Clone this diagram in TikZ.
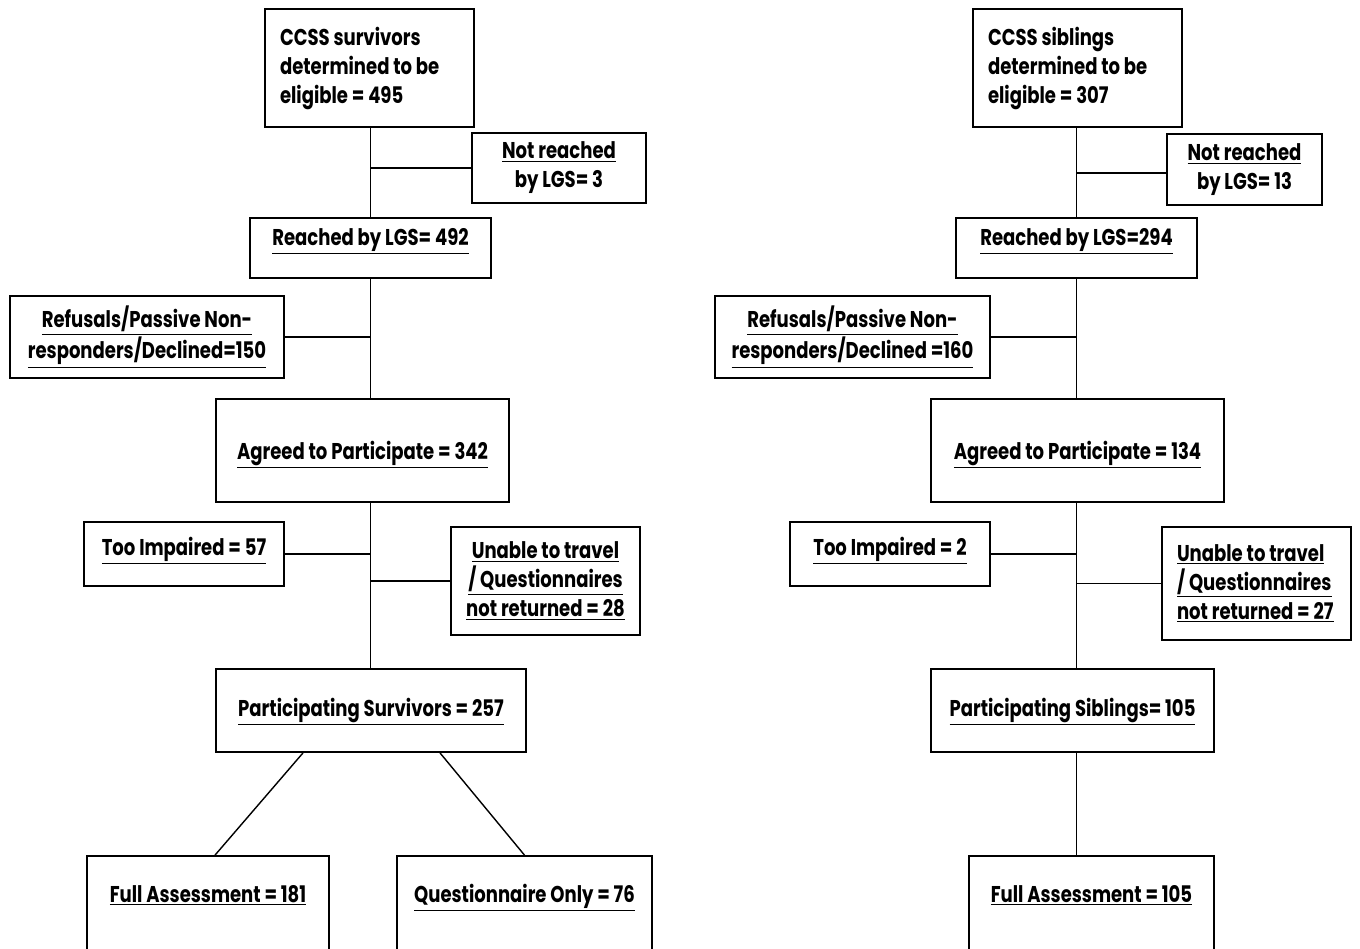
\documentclass[tikz,border=0pt]{standalone}
\usepackage{fontspec}
\setmainfont{Poppins}[FakeStretch=0.79]
\newcommand{\uln}[1]{\underline{#1}}
\begin{document}
\begin{tikzpicture}[x=0.02cm, y=-0.02cm, line width=0.8pt,
  cell/.style={draw, line width=1pt, inner sep=0pt,
    font=\bfseries\fontsize{13pt}{16.5pt}\selectfont},
  mcell/.style={cell, align=center}]
  \useasboundingbox (0,0) rectangle (1360,948);

  % Survivors
  \node[mcell, align=flush left, text width=3.58cm, inner xsep=0.3cm, minimum height=2.36cm] (topL) at (369.5,68) {CCSS survivors\\determined to be\\eligible = 495};
  \node[mcell, minimum width=3.48cm, minimum height=1.4cm] (nrL) at (559,168) {\uln{Not reached}\\by LGS= 3};
  \node[cell, minimum width=4.82cm, text height=0.54cm, text depth=0.66cm] (reL) at (370.5,248) {\uln{Reached by LGS= 492}};
  \node[mcell, minimum width=5.48cm, minimum height=1.64cm] (refL) at (147,337) {\uln{Refusals/Passive Non-}\\\uln{responders/Declined=150}};
  \node[cell, minimum width=5.86cm, text height=1.2cm, text depth=0.86cm] (agL) at (362.5,450.5) {\uln{Agreed to Participate = 342}};
  \node[cell, minimum width=4cm, text height=0.66cm, text depth=0.62cm] (tiL) at (184,554) {\uln{Too Impaired = 57}};
  \node[mcell, minimum width=3.78cm, minimum height=2.16cm] (unL) at (545.5,581) {\uln{Unable to travel}\\\uln{/ Questionnaires}\\\uln{not returned = 28}};
  \node[cell, minimum width=6.2cm, text height=0.94cm, text depth=0.72cm] (paL) at (371,710.5) {\uln{Participating Survivors = 257}};
  \node[cell, minimum width=4.84cm, text height=0.92cm, text depth=1.08cm] (faL) at (208,906) {\uln{Full Assessment = 181}};
  \node[cell, minimum width=5.1cm, text height=0.92cm, text depth=1.08cm] (qoL) at (524.5,906) {\uln{Questionnaire Only = 76}};

  \draw (reL.north) -- (reL.north |- topL.south);
  \draw (reL.south) -- (reL.south |- agL.north);
  \draw (reL.south |- agL.south) -- (reL.south |- paL.north);
  \draw (nrL.west) -- (nrL.west -| reL.north);
  \draw (refL.east) -- (refL.east -| reL.south);
  \draw (tiL.east) -- (tiL.east -| reL.south);
  \draw (unL.west) -- (unL.west -| reL.south);
  \draw ([xshift=-1.36cm]paL.south) -- ([xshift=0.14cm]faL.north);
  \draw ([xshift=1.38cm]paL.south) -- (qoL.north);

  % Siblings
  \node[mcell, align=flush left, text width=3.58cm, inner xsep=0.3cm, minimum height=2.36cm] (topR) at (1077.5,68) {CCSS siblings\\determined to be\\eligible = 307};
  \node[mcell, minimum width=3.1cm, minimum height=1.42cm] (nrR) at (1244.5,169.5) {\uln{Not reached}\\by LGS= 13};
  \node[cell, minimum width=4.82cm, text height=0.54cm, text depth=0.66cm] (reR) at (1076.5,248) {\uln{Reached by LGS=294}};
  \node[mcell, minimum width=5.5cm, minimum height=1.64cm] (refR) at (852.5,337) {\uln{Refusals/Passive Non-}\\\uln{responders/Declined =160}};
  \node[cell, minimum width=5.86cm, text height=1.2cm, text depth=0.86cm] (agR) at (1077.5,450.5) {\uln{Agreed to Participate = 134}};
  \node[cell, minimum width=4cm, text height=0.66cm, text depth=0.62cm] (tiR) at (890,554) {\uln{Too Impaired = 2}};
  \node[mcell, align=flush left, text width=3.18cm, inner xsep=0.3cm, minimum height=2.26cm] (unR) at (1256.5,583.5) {\uln{Unable to travel}\\\uln{/ Questionnaires}\\\uln{not returned = 27}};
  \node[cell, minimum width=5.66cm, text height=0.94cm, text depth=0.72cm] (paR) at (1072.5,710.5) {\uln{Participating Siblings= 105}};
  \node[cell, minimum width=4.9cm, text height=0.92cm, text depth=1.08cm] (faR) at (1091.5,906) {\uln{Full Assessment = 105}};

  \draw (reR.north) -- (reR.north |- topR.south);
  \draw (reR.south) -- (reR.south |- agR.north);
  \draw (reR.south |- agR.south) -- (reR.south |- paR.north);
  \draw (reR.south |- paR.south) -- (reR.south |- faR.north);
  \draw ([yshift=-0.07cm]nrR.west) -- ([yshift=-0.07cm]nrR.west -| reR.north);
  \draw (refR.east) -- (refR.east -| reR.south);
  \draw (tiR.east) -- (tiR.east -| reR.south);
  \draw (unR.west) -- (unR.west -| reR.south);
\end{tikzpicture}
\end{document}
